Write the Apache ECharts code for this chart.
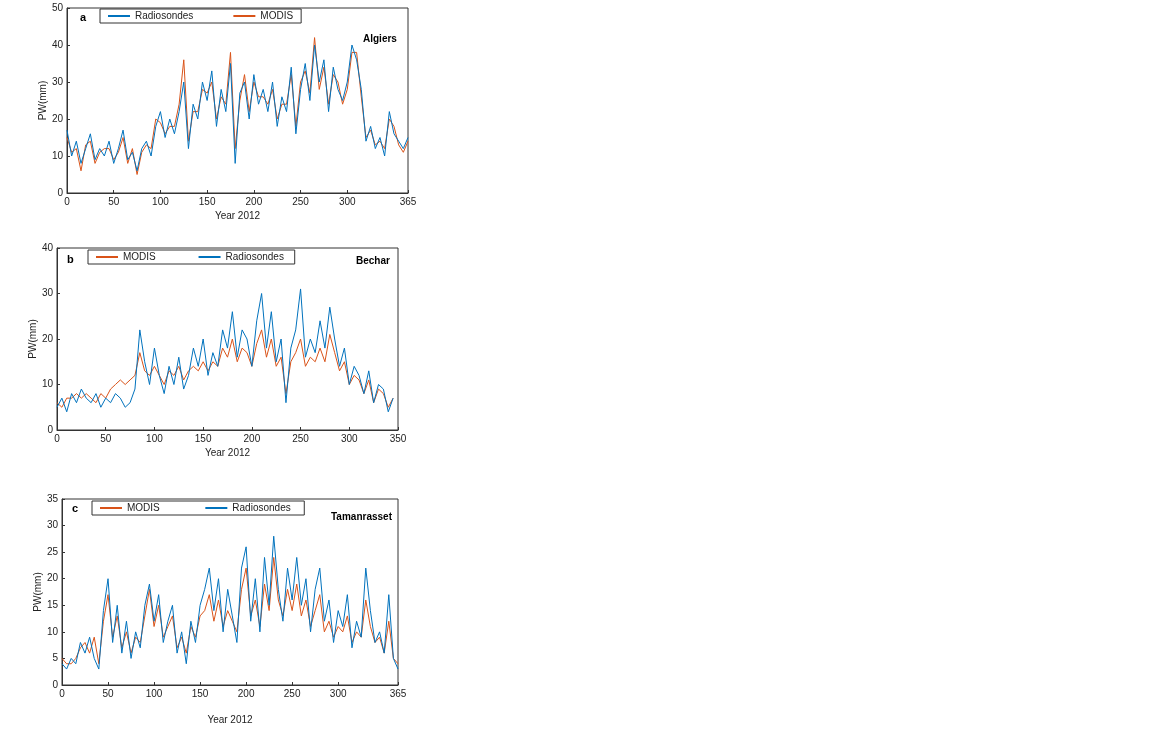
<!DOCTYPE html>
<html><head><meta charset="utf-8">
<script src="https://cdn.jsdelivr.net/npm/echarts@6/dist/echarts.min.js"></script>
<style>html,body{margin:0;background:#fff}#c{width:1152px;height:747px}</style>
</head><body><div id="c"></div>
<script>
const daysA=[0,5,10,15,20,25,30,35,40,45,50,55,60,65,70,75,80,85,90,95,100,105,110,115,120,125,130,135,140,145,150,155,160,165,170,175,180,185,190,195,200,205,210,215,220,225,230,235,240,245,250,255,260,265,270,275,280,285,290,295,300,305,310,315,320,325,330,335,340,345,350,355,360,365];
const radA=[17,10,14,8,12,16,9,12,10,14,8,12,17,9,11,6,12,14,10,18,22,15,20,16,22,30,12,24,20,30,25,33,18,28,22,35,8,27,30,20,32,24,28,22,30,18,26,22,34,16,28,35,25,40,30,36,22,34,28,25,30,40,36,28,14,18,12,15,10,22,16,14,12,15];
const modA=[15,11,12,6,13,14,8,11,12,12,9,11,15,8,12,5,11,13,12,20,19,16,18,18,24,36,14,22,22,28,27,30,20,26,24,38,12,25,32,22,30,26,26,24,28,20,24,24,32,18,30,33,27,42,28,34,24,32,30,24,28,38,38,26,15,17,13,14,12,20,18,13,11,14];
const daysB=[0,5,10,15,20,25,30,35,40,45,50,55,60,65,70,75,80,85,90,95,100,105,110,115,120,125,130,135,140,145,150,155,160,165,170,175,180,185,190,195,200,205,210,215,220,225,230,235,240,245,250,255,260,265,270,275,280,285,290,295,300,305,310,315,320,325,330,335,340,345];
const radB=[5,7,4,8,6,9,7,6,8,5,7,6,8,7,5,6,9,22,15,10,18,12,8,14,10,16,9,12,18,14,20,12,17,14,22,18,26,16,22,20,14,24,30,18,26,15,20,6,18,22,31,16,20,17,24,18,27,20,14,18,10,14,12,8,13,6,10,9,4,7];
const modB=[6,5,7,7,8,7,8,7,6,8,7,9,10,11,10,11,12,17,13,12,14,12,10,13,12,14,11,13,14,13,15,13,15,14,18,16,20,15,18,17,14,19,22,16,20,14,16,8,15,17,20,14,16,15,18,15,21,17,13,15,10,12,11,8,11,6,9,8,5,7];
const daysC=daysA;
const radC=[4,3,5,4,8,6,9,5,3,14,20,8,15,6,12,5,10,7,15,19,12,17,8,12,15,6,10,4,12,8,15,18,22,14,20,10,18,13,8,22,26,12,20,10,24,15,28,18,12,22,16,24,15,20,10,18,22,12,16,8,14,11,17,7,12,9,22,14,8,10,6,17,5,3];
const modC=[5,4,4,5,7,8,6,9,4,12,17,9,13,7,10,6,9,8,13,18,11,15,9,11,13,7,9,6,11,9,13,14,17,12,16,11,14,12,10,18,22,13,16,11,19,14,24,16,13,18,14,19,13,16,11,14,17,10,12,9,11,10,13,8,10,9,16,11,8,9,6,12,5,4];
const ticksA=[0,50,100,150,200,250,300,365];
const ticksB=[0,50,100,150,200,250,300,350];
const B='#0072BD',O='#D95319';
const pair=(d,v)=>d.map((x,i)=>[x,v[i]]);
const grids=[{left:67,top:8,width:341,height:185},{left:57,top:248,width:341,height:182},{left:62,top:499,width:336,height:186}].map(g=>Object.assign(g,{show:true,borderColor:'#333',borderWidth:1}));
const lab={fontSize:10,color:'#222',margin:4,fontFamily:'Liberation Sans'};
const ax={axisLine:{show:true,lineStyle:{color:'#333'}},axisTick:{inside:true,length:3,lineStyle:{color:'#333'}},splitLine:{show:false},nameTextStyle:{fontSize:10,color:'#222',fontFamily:'Liberation Sans'}};
const xA=[{max:365,t:ticksA,gap:18},{max:350,t:ticksB,gap:18},{max:365,t:ticksA,gap:30}];
const yA=[{max:50,interval:10},{max:40,interval:10},{max:35,interval:5}];
const chart=echarts.init(document.getElementById('c'));
const xAxis=xA.map((o,i)=>Object.assign({},ax,{type:'value',gridIndex:i,min:0,max:o.max,name:'Year 2012',nameLocation:'middle',nameGap:o.gap,
  axisTick:Object.assign({},ax.axisTick,{customValues:o.t}),axisLabel:Object.assign({},lab,{customValues:o.t})}));
const yAxis=yA.map((o,i)=>Object.assign({},ax,{type:'value',gridIndex:i,min:0,max:o.max,interval:o.interval,name:'PW(mm)',nameLocation:'middle',nameGap:18,axisLabel:lab}));
const ln=(name,data,c,i)=>({type:'line',name,data,xAxisIndex:i,yAxisIndex:i,showSymbol:false,lineStyle:{width:1,color:c},itemStyle:{color:c},z:c===B?3:2});
const series=[ln('Radiosondes',pair(daysA,radA),B,0),ln('MODIS',pair(daysA,modA),O,0),
 ln('MODIS ',pair(daysB,modB),O,1),ln('Radiosondes ',pair(daysB,radB),B,1),
 ln('MODIS  ',pair(daysC,modC),O,2),ln('Radiosondes  ',pair(daysC,radC),B,2)];
const lg=(data,left,top,w)=>({data,left,top,width:w,orient:'horizontal',itemWidth:22,itemHeight:2,itemGap:40,icon:'rect',borderColor:'#333',borderWidth:1,borderRadius:0,padding:[2,8],textStyle:{fontSize:10,color:'#222',fontFamily:'Liberation Sans'}});
chart.setOption({animation:false,grid:grids,xAxis,yAxis,series,
 legend:[lg(['Radiosondes','MODIS'],100,9,250),lg(['MODIS ','Radiosondes '],88,250,240),lg(['MODIS  ','Radiosondes  '],92,501,200)],
 graphic:[{type:'text',left:80,top:12,style:{text:'a',font:'bold 11px Liberation Sans'}},
  {type:'text',left:363,top:34,style:{text:'Algiers',font:'bold 10px Liberation Sans'}},
  {type:'text',left:67,top:254,style:{text:'b',font:'bold 11px Liberation Sans'}},
  {type:'text',left:356,top:256,style:{text:'Bechar',font:'bold 10px Liberation Sans'}},
  {type:'text',left:72,top:503,style:{text:'c',font:'bold 11px Liberation Sans'}},
  {type:'text',left:331,top:512,style:{text:'Tamanrasset',font:'bold 10px Liberation Sans'}}]});
</script></body></html>
